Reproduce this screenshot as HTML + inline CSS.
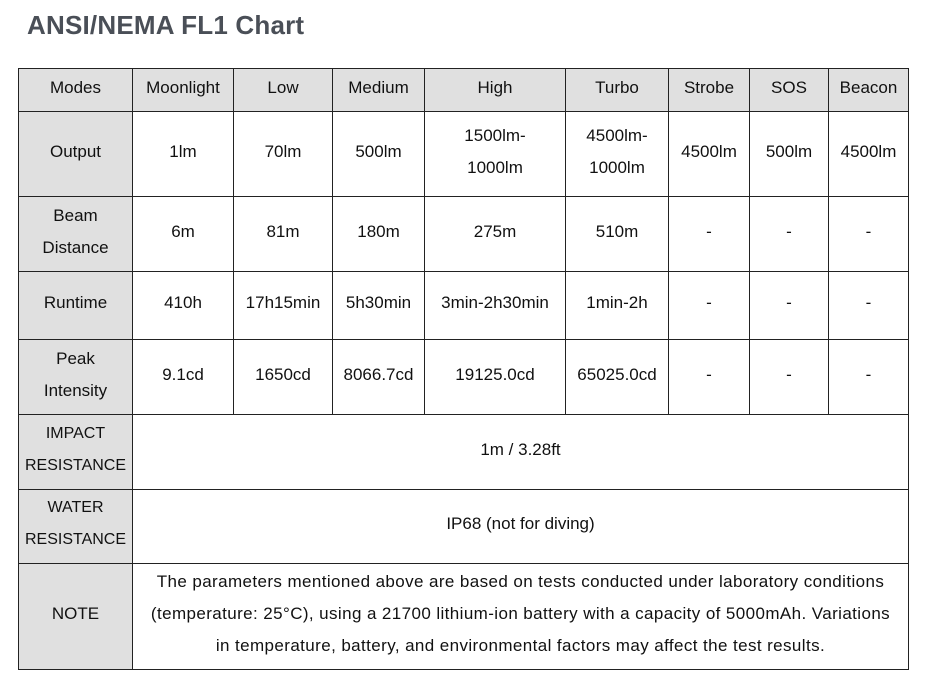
<!DOCTYPE html>
<html><head><meta charset="utf-8"><style>
body{margin:0;background:#fff;width:931px;height:697px;position:relative;font-family:"Liberation Sans",sans-serif;color:#111;}
h1{position:absolute;left:27px;top:10px;margin:0;font-size:26px;font-weight:bold;color:#4a4f57;letter-spacing:0.2px}
table{position:absolute;left:18px;top:68px;border-collapse:collapse;table-layout:fixed;width:891px;}
td{border:1px solid #222;text-align:center;vertical-align:middle;font-size:17px;padding:0 0 5px 0;line-height:32px}
.n{letter-spacing:0.4px}
.g{background:#e0e0e0}
.s{font-size:16px}
</style></head><body>
<h1>ANSI/NEMA FL1 Chart</h1>
<table>
<colgroup><col style="width:114px"><col style="width:101px"><col style="width:99px"><col style="width:92px"><col style="width:141px"><col style="width:103px"><col style="width:81px"><col style="width:79px"><col style="width:80px"></colgroup>
<tr style="height:43px"><td class="g">Modes</td><td class="g">Moonlight</td><td class="g">Low</td><td class="g">Medium</td><td class="g">High</td><td class="g">Turbo</td><td class="g">Strobe</td><td class="g">SOS</td><td class="g">Beacon</td></tr>
<tr style="height:85px"><td class="g">Output</td><td>1lm</td><td>70lm</td><td>500lm</td><td>1500lm-<br>1000lm</td><td>4500lm-<br>1000lm</td><td>4500lm</td><td>500lm</td><td>4500lm</td></tr>
<tr style="height:75px"><td class="g">Beam<br>Distance</td><td>6m</td><td>81m</td><td>180m</td><td>275m</td><td>510m</td><td>-</td><td>-</td><td>-</td></tr>
<tr style="height:68px"><td class="g">Runtime</td><td>410h</td><td>17h15min</td><td>5h30min</td><td>3min-2h30min</td><td>1min-2h</td><td>-</td><td>-</td><td>-</td></tr>
<tr style="height:75px"><td class="g">Peak<br>Intensity</td><td>9.1cd</td><td>1650cd</td><td>8066.7cd</td><td>19125.0cd</td><td>65025.0cd</td><td>-</td><td>-</td><td>-</td></tr>
<tr style="height:75px"><td class="g s">IMPACT<br>RESISTANCE</td><td colspan="8">1m / 3.28ft</td></tr>
<tr style="height:74px"><td class="g s">WATER<br>RESISTANCE</td><td colspan="8">IP68 (not for diving)</td></tr>
<tr style="height:106px"><td class="g">NOTE</td><td colspan="8" class="n">The parameters mentioned above are based on tests conducted under laboratory conditions<br>(temperature: 25°C), using a 21700 lithium-ion battery with a capacity of 5000mAh. Variations<br>in temperature, battery, and environmental factors may affect the test results.</td></tr>
</table>
</body></html>
